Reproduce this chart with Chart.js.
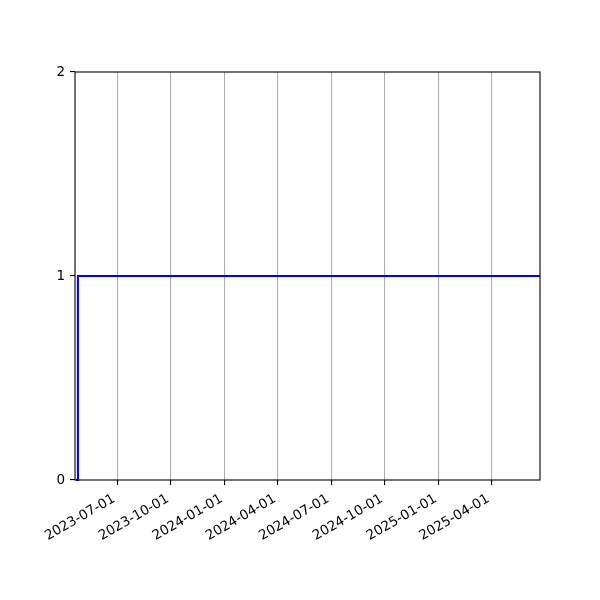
<!DOCTYPE html>
<html>
<head>
<meta charset="utf-8">
<script src="https://cdn.jsdelivr.net/npm/chart.js@4.4.1/dist/chart.umd.min.js"></script>
<style>
  html,body{margin:0;padding:0;background:#fff;}
  #wrap{width:600px;height:600px;position:relative;}
</style>
</head>
<body>
<div id="wrap"><canvas id="c"></canvas></div>
<script>
/* --- DATA --- */
const stepDates  = ['2023-04-22','2023-04-25','2025-06-23'];
const stepValues = [0, 1, 1];
const xTickDates = ['2023-07-01','2023-10-01','2024-01-01','2024-04-01',
                    '2024-07-01','2024-10-01','2025-01-01','2025-04-01'];
const yTicks     = [0, 1, 2];
const xStart = '2023-04-20';
const xEnd   = '2025-06-23';

/* --- HELPERS --- */
const ms = s => { const [y,m,d] = s.split('-').map(Number); return Date.UTC(y, m-1, d); };
const fmt = v => new Date(v).toISOString().slice(0,10);
const tk = {font:{size:13.5, family:'DejaVu Sans'}, color:'#000'};

/* frame round the plot area, like a matplotlib axes box */
const frame = {
  id:'frame',
  afterDraw(chart){
    const {ctx, chartArea:a} = chart;
    ctx.save();
    ctx.strokeStyle = '#000';
    ctx.lineWidth = 1.1;
    ctx.strokeRect(a.left, a.top, a.right - a.left, a.bottom - a.top);
    ctx.restore();
  }
};

new Chart(document.getElementById('c'), {
  type:'line',
  data:{datasets:[{
    data: stepDates.map((d,i)=>({x:ms(d), y:stepValues[i]})),
    borderColor:'#0000ff',
    borderWidth:2.1,
    stepped:true,
    pointRadius:0,
    fill:false,
    clip:false
  }]},
  options:{
    responsive:true,
    maintainAspectRatio:false,
    animation:false,
    devicePixelRatio:1,
    layout:{padding:{left:0, top:72, right:60, bottom:0}},
    plugins:{legend:{display:false}, tooltip:{enabled:false}},
    scales:{
      x:{
        type:'linear',
        min:ms(xStart), max:ms(xEnd),
        afterBuildTicks: ax => { ax.ticks = xTickDates.map(d=>({value:ms(d)})); },
        afterFit: ax => { ax.height = 120; },
        ticks:{...tk, minRotation:30, maxRotation:30, padding:6, labelOffset:-3, autoSkip:false,
               callback: v => fmt(v)},
        grid:{color:'#b0b0b0', lineWidth:1.1, tickColor:'#000', tickLength:5},
        border:{display:false}
      },
      y:{
        min:0, max:2,
        afterBuildTicks: ax => { ax.ticks = yTicks.map(v=>({value:v})); },
        afterFit: ax => { ax.width = 75; },
        ticks:{...tk, padding:5},
        grid:{drawOnChartArea:false, tickColor:'#000', tickLength:5, lineWidth:1.1},
        border:{display:false}
      }
    }
  },
  plugins:[frame]
});
</script>
</body>
</html>
